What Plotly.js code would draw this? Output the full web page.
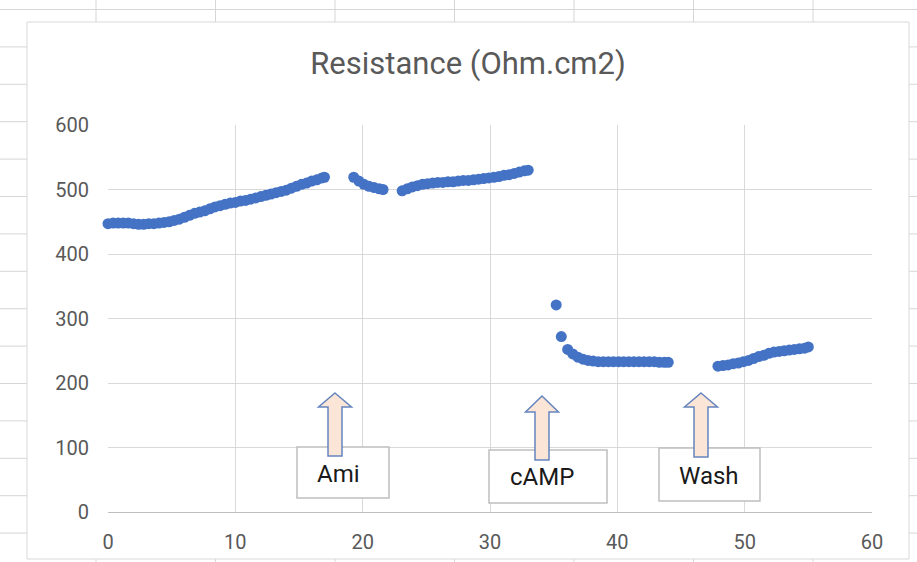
<!DOCTYPE html>
<html>
<head>
<meta charset="utf-8">
<script src="https://cdn.plot.ly/plotly-3.0.1.min.js"></script>
<style>html,body{margin:0;padding:0;background:#fff;}#chart{width:917px;height:562px;}</style>
</head>
<body>
<div id="chart"></div>
<script>
// ---- data (time in minutes, resistance in Ohm.cm2) ----
const baseTime = [0,0.4,0.8,1.2,1.6,2.0,2.4,2.8,3.2,3.6,4.0,4.4,4.8,5.2,5.6,6.0,6.4,6.8,7.2,7.6,8.0,8.4,8.8,9.2,9.6,10.0,10.4,10.8,11.2,11.6,12.0,12.4,12.8,13.2,13.6,14.0,14.4,14.8,15.2,15.6,16.0,16.4,16.8,17.0];
const baseR    = [447,448,448,448,448,447,446,446,447,447,448,449,450,452,454,457,460,463,465,467,470,473,475,477,479,480,482,483,485,487,489,491,493,495,497,499,502,505,508,510,513,515,518,519];
const amiTime  = [19.3,19.7,20.1,20.5,20.9,21.3,21.6];
const amiR     = [519,513,508,505,503,501,500];
const ami2Time = [23.1,23.5,23.9,24.3,24.7,25.1,25.5,25.9,26.3,26.7,27.1,27.5,27.9,28.3,28.7,29.1,29.5,29.9,30.3,30.7,31.1,31.5,31.9,32.3,32.7,33.0];
const ami2R    = [498,501,504,506,508,509,510,511,511,512,512,513,514,514,515,516,517,518,519,520,522,523,525,527,529,530];
const campTime = [35.2,35.6,36.1,36.5,36.9,37.3,37.7,38.1,38.5,38.9,39.3,39.7,40.1,40.5,40.9,41.3,41.7,42.1,42.5,42.9,43.3,43.7,44.0];
const campR    = [321,272,252,245,240,237,235,234,233,233,233,233,233,233,233,233,233,233,233,233,232,232,232];
const washTime = [47.9,48.3,48.7,49.1,49.5,49.9,50.3,50.7,51.1,51.5,51.9,52.3,52.7,53.1,53.5,53.9,54.3,54.7,55.0];
const washR    = [226,227,228,230,231,233,235,238,241,243,246,248,249,250,251,252,253,254,256];
const xTicks = [0,10,20,30,40,50,60];
const yTicks = [0,100,200,300,400,500,600];
const labels = ["Ami","cAMP","Wash"];

// ---- geometry helpers (pixel -> paper) ----
const L = 108, R = 872, T = 125, B = 512;
const W = R - L, H = B - T;
const px = v => (v - L) / W;
const py = v => (B - v) / H;

const shapes = [];
const cellColor = "#d6d6d6";
// spreadsheet cell grid behind the chart
for (const y of [9.5,46.9,84.3,121.7,159.1,196.5,233.9,271.3,308.7,346.1,383.5,420.9,458.3,495.7,533.1]) {
  shapes.push({type:"line", xref:"paper", yref:"paper", x0:px(0), x1:px(917), y0:py(y), y1:py(y), line:{color:cellColor,width:1}, layer:"below"});
}
for (const x of [96,215.5,335,454.5,574,693.5,813]) {
  shapes.push({type:"line", xref:"paper", yref:"paper", x0:px(x), x1:px(x), y0:py(0), y1:py(562), line:{color:cellColor,width:1}, layer:"below"});
}
// chart area
shapes.push({type:"rect", xref:"paper", yref:"paper", x0:px(27), x1:px(909), y0:py(22), y1:py(559), fillcolor:"#ffffff", line:{color:"#d9d9d9",width:1}, layer:"below"});

// text boxes
const boxes = [
  {x0:297,x1:389,y0:447,y1:498, tx:315, ty:474},
  {x0:489,x1:607,y0:450,y1:503, tx:508, ty:477},
  {x0:659,x1:760,y0:448,y1:501, tx:677, ty:476}
];
for (const b of boxes) {
  shapes.push({type:"rect", xref:"paper", yref:"paper", x0:px(b.x0), x1:px(b.x1), y0:py(b.y0), y1:py(b.y1), fillcolor:"#ffffff", line:{color:"#bfbfbf",width:1.5}, layer:"above"});
}
// block up-arrows
const arrows = [
  {cx:335, top:393, base:407, bottom:456},
  {cx:542, top:396, base:412, bottom:460},
  {cx:701, top:393, base:407, bottom:457}
];
for (const a of arrows) {
  const hw = 16.5, sw = 7;
  const pts = [[a.cx,a.top],[a.cx+hw,a.base],[a.cx+sw,a.base],[a.cx+sw,a.bottom],[a.cx-sw,a.bottom],[a.cx-sw,a.base],[a.cx-hw,a.base]];
  const path = "M" + pts.map(p => px(p[0]).toFixed(5) + "," + py(p[1]).toFixed(5)).join(" L") + " Z";
  shapes.push({type:"path", xref:"paper", yref:"paper", path:path, fillcolor:"#fbe5d6", line:{color:"#6585bf",width:1.5}, layer:"above"});
}

const annotations = boxes.map((b,i) => ({
  text: labels[i], xref:"paper", yref:"paper", x:px(b.tx), y:py(b.ty), xanchor:"left", yanchor:"middle",
  showarrow:false, font:{family:"Roboto, Arial, sans-serif", size:24, color:"#1a1a1a"}
}));

const trace = {
  type:"scatter", mode:"markers",
  x: [].concat(baseTime, amiTime, ami2Time, campTime, washTime),
  y: [].concat(baseR, amiR, ami2R, campR, washR),
  marker:{color:"#4472c4", size:11},
  cliponaxis:false, hoverinfo:"x+y"
};

const tickFont = {family:"Roboto, Arial, sans-serif", size:20, color:"#595959"};
const layout = {
  width:917, height:562,
  margin:{l:L, r:917-R, t:T, b:562-B, pad:0},
  paper_bgcolor:"#ffffff", plot_bgcolor:"rgba(0,0,0,0)",
  showlegend:false,
  title:{text:"Resistance (Ohm.cm2)", xref:"container", yref:"container", x:468/917, y:1-63/562, xanchor:"center", yanchor:"middle",
         font:{family:"Roboto, Arial, sans-serif", size:31, color:"#595959"}},
  xaxis:{range:[0,60], tickvals:xTicks, ticktext:xTicks.map(String), showgrid:true, gridcolor:"#d9d9d9", gridwidth:1,
         zeroline:false, showline:true, linecolor:"#bfbfbf", linewidth:1, mirror:false, ticks:"", tickfont:tickFont, ticklabelstandoff:12, fixedrange:true},
  yaxis:{range:[0,600], tickvals:yTicks, ticktext:yTicks.map(String), showgrid:true, gridcolor:"#d9d9d9", gridwidth:1,
         zeroline:false, showline:false, ticks:"", tickfont:tickFont, ticklabelstandoff:18, fixedrange:true},
  shapes:shapes, annotations:annotations
};
Plotly.newPlot("chart", [trace], layout, {displayModeBar:false, staticPlot:true});
</script>
</body>
</html>
